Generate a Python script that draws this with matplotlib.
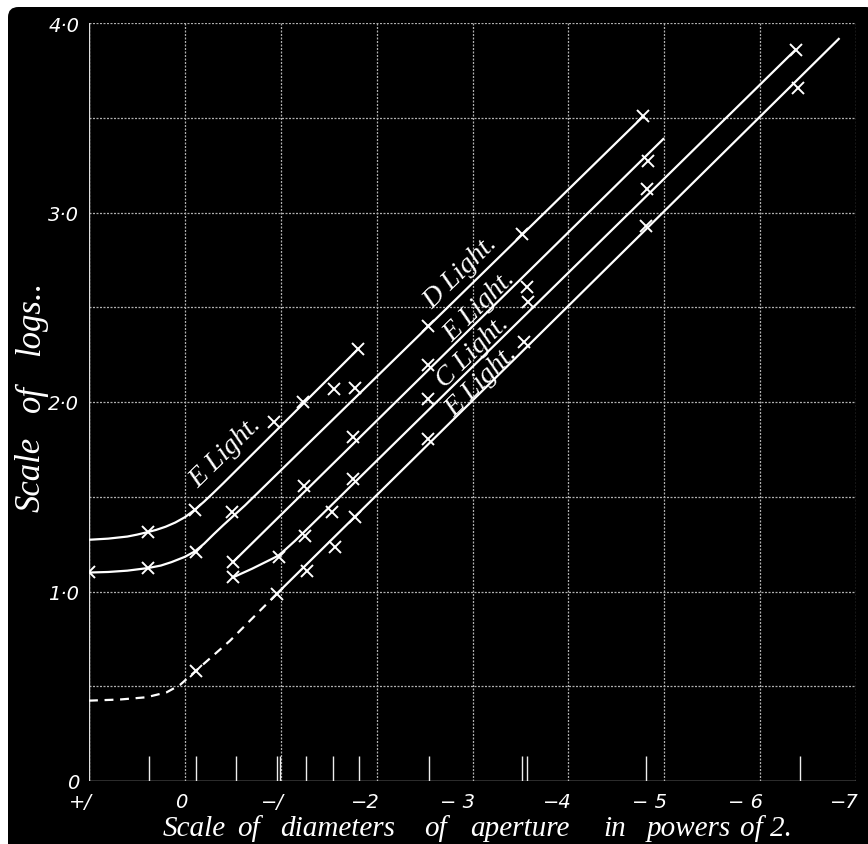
import matplotlib
matplotlib.use("Agg")
import matplotlib.pyplot as plt
from matplotlib.patches import FancyBboxPatch
from matplotlib import transforms
import numpy as np

# ---------------- data ----------------
# curve A (upper "E Light", curved start)
curveA_x = [1.0, 0.8, 0.6, 0.5, 0.4, 0.3, 0.2, 0.1, 0.0, -0.105, -0.2, -0.3, -0.4, -1.808]
curveA_y = [1.273, 1.279, 1.290, 1.300, 1.312, 1.325, 1.342, 1.364, 1.392, 1.432, 1.474, 1.522, 1.571, 2.28]
# curve B ("D Light", curved start)
curveB_x = [1.0, 0.8, 0.6, 0.382, 0.25, 0.14, 0.0, -0.105, -0.2, -0.3, -0.4, -0.626, -4.78]
curveB_y = [1.10, 1.103, 1.110, 1.124, 1.137, 1.155, 1.183, 1.212, 1.252, 1.302, 1.35, 1.454, 3.507]
# line C ("E Light.")
lineC_x = [-0.505, -4.99]
lineC_y = [1.157, 3.388]
# curve D ("C Light.")
curveD_x = [-0.505, -0.6, -0.7, -0.8, -0.9, -0.974, -1.05, -1.15, -1.3, -6.37]
curveD_y = [1.075, 1.097, 1.120, 1.145, 1.170, 1.189, 1.222, 1.268, 1.342, 3.859]
# line E ("E Light.") solid and dashed extension
lineE_x = [-0.957, -6.82]
lineE_y = [0.987, 3.916]
dashE_x = [1.0, 0.677, 0.4, 0.19, 0.051, -0.116, -0.47, -0.957]
dashE_y = [0.424, 0.43, 0.442, 0.468, 0.507, 0.582, 0.74, 0.987]

# observations (crosses)
ptsA_x = [0.388, -0.105, -1.228, -1.808]
ptsA_y = [1.312, 1.432, 2.002, 2.28]
ptsB_x = [1.0, 0.382, -0.112, -0.488, -2.538, -3.518, -4.78]
ptsB_y = [1.105, 1.126, 1.21, 1.421, 2.399, 2.887, 3.507]
ptsC_x = [-0.505, -1.242, -1.756, -2.538, -3.564, -4.83]
ptsC_y = [1.157, 1.558, 1.814, 2.196, 2.605, 3.273]
ptsD_x = [-0.505, -0.981, -1.252, -1.537, -1.756, -2.538, -3.575, -4.815, -6.37]
ptsD_y = [1.075, 1.183, 1.291, 1.421, 1.594, 2.016, 2.529, 3.124, 3.859]
ptsE_x = [-0.116, -0.957, -1.27, -1.565, -1.774, -2.538, -3.54, -4.81, -6.40]
ptsE_y = [0.582, 0.987, 1.109, 1.233, 1.391, 1.805, 2.318, 2.927, 3.655]
ptsX_x = [-0.932, -1.555, -1.774]
ptsX_y = [1.893, 2.069, 2.074]

# short marks on the base line (aperture values)
base_ticks = [0.374, -0.116, -0.533, -0.96, -0.99, -1.26, -1.54, -1.82,
              -2.55, -3.52, -3.57, -4.81, -6.42]

x_ticks = [1, 0, -1, -2, -3, -4, -5, -6, -7]
x_ticklabels = ["+/", "0", "\u2212/", "\u22122", "\u2212 3", "\u22124", "\u2212 5", "\u2212 6", "\u22127"]
y_ticks = [0, 1, 2, 3, 4]
y_ticklabels = ["0", "1\u00b70", "2\u00b70", "3\u00b70", "4\u00b70"]

labels = ["E Light.", "D Light.", "E Light.", "C Light.", "E Light."]
label_x = [-0.42, -2.88, -3.07, -3.0, -3.09]
label_y = [1.74, 2.69, 2.51, 2.27, 2.11]

xlabel_words = ["Scale", "of", "diameters", "of", "aperture", "in", "powers", "of 2."]
ylabel_words = ["Scale", "of", "logs.."]

# ---------------- figure ----------------
W, H = 868, 845
fig = plt.figure(figsize=(W / 100, H / 100), dpi=100, facecolor="white")
bg = FancyBboxPatch((8 / W, -0.02), 1.0, (H - 8) / H + 0.02,
                    boxstyle="round,pad=0,rounding_size=0.012",
                    transform=fig.transFigure, fc="black", ec="none", zorder=-5)
fig.patches.append(bg)

ax = fig.add_axes([89 / W, (H - 782) / H, (856 - 89) / W, (782 - 24) / H])
ax.set_zorder(2)
ax.set_facecolor("none")
ax.set_xlim(1, -7)
ax.set_ylim(0, 4)

# grid
grid_kw = dict(color="#b0b0b0", lw=0.9, ls=(0, (1.6, 1.2)), zorder=1)
for gx in range(-7, 2):
    ax.axvline(gx, **grid_kw)
for gy in np.arange(0.5, 4.01, 0.5):
    ax.axhline(gy, **grid_kw)
ax.axhline(0, color="#dddddd", lw=1.0, zorder=2)
ax.axvline(1, color="#dddddd", lw=1.0, zorder=2)
for s in ax.spines.values():
    s.set_visible(False)

ax.vlines(base_ticks, 0, 0.13, color="#eeeeee", lw=1.0, zorder=2)

lw = 1.6
lc = "white"
ax.plot(curveA_x, curveA_y, color=lc, lw=lw, zorder=3)
ax.plot(curveB_x, curveB_y, color=lc, lw=lw, zorder=3)
ax.plot(lineC_x, lineC_y, color=lc, lw=lw, zorder=3)
ax.plot(curveD_x, curveD_y, color=lc, lw=lw, zorder=3)
ax.plot(lineE_x, lineE_y, color=lc, lw=lw, zorder=3)
ax.plot(dashE_x, dashE_y, color=lc, lw=lw, ls=(0, (4, 3)), zorder=3)

mk = dict(marker="x", ls="none", color="white", ms=9, mew=1.4, zorder=4)
for px, py in [(ptsA_x, ptsA_y), (ptsB_x, ptsB_y), (ptsC_x, ptsC_y),
               (ptsD_x, ptsD_y), (ptsE_x, ptsE_y), (ptsX_x, ptsX_y)]:
    ax.plot(px, py, **mk)

serif_it = dict(family=["Liberation Serif", "DejaVu Serif"], style="italic")
for t, lx, ly in zip(labels, label_x, label_y):
    ax.text(lx, ly, t, color="white", fontsize=20, rotation=44.5,
            ha="center", va="center", rotation_mode="anchor", zorder=5, **serif_it)

ax.set_xticks(x_ticks)
ax.set_xticklabels(x_ticklabels)
ax.set_yticks(y_ticks)
ax.set_yticklabels(y_ticklabels)
ax.tick_params(length=0, colors="white", labelsize=14)
ax.tick_params(axis="x", pad=8)
ax.tick_params(axis="y", pad=7)
shift = transforms.ScaledTranslation(3 / 100, 0, fig.dpi_scale_trans)
for lab in ax.get_xticklabels():
    lab.set_horizontalalignment("right")
    lab.set_transform(lab.get_transform() + shift)
for lab in ax.get_xticklabels() + ax.get_yticklabels():
    lab.set_fontstyle("italic")
    lab.set_fontfamily(["DejaVu Sans"])
    lab.set_fontweight("light")

# x-axis title, word by word as in the engraving
word_px = [163, 237, 280, 424, 470, 603, 647, 740]
for wd, wx in zip(xlabel_words, word_px):
    fig.text(wx / W, (H - 829) / H, wd, color="white", fontsize=21,
             ha="left", va="center", **serif_it)
# y-axis title, word by word (centres along the axis, px from top)
yword_py = [474, 398, 318]
for wd, wy in zip(ylabel_words, yword_py):
    fig.text(31 / W, (H - wy) / H, wd, color="white", fontsize=25,
             rotation=90, ha="center", va="center", **serif_it)

fig.savefig("out.png", dpi=100, facecolor="white")
